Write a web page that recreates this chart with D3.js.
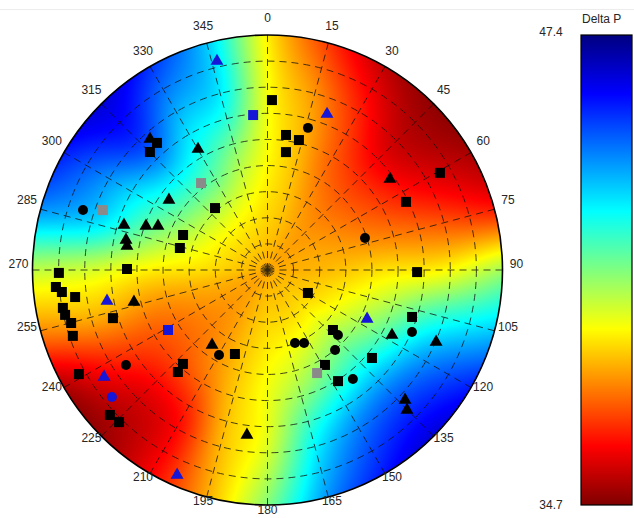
<!DOCTYPE html>
<html><head><meta charset="utf-8">
<script src="https://cdn.jsdelivr.net/npm/d3@7"></script>
<style>
body{margin:0;background:#fff;}
text{font-family:"Liberation Sans",Arial,Helvetica,sans-serif;}
</style>
</head><body>
<svg id="chart" width="634" height="518"></svg>
<script>
// ---------------- DATA ----------------
const colorMin = 34.7, colorMax = 47.4;
const colorTitle = "Delta P";
const angleTicks = [0,15,30,45,60,75,90,105,120,135,150,165,180,195,210,225,240,255,270,285,300,315,330,345];
const ringTicks = [10,20,30,40,50,60,70,80];
const radialMax = 90;

// Delta P field sampled on rings (radius, same units as points) x azimuths
const fieldAzimuths = [0,15,30,45,60,75,90,105,120,135,150,165,180,195,210,225,240,255,270,285,300,315,330,345];
const fieldRadii = [0, 22.5, 45, 67.5, 90];
const fieldCenter = 38.4;
const fieldRing1 = [39.0,38.7,38.3,38.1,38.2,38.4,38.6,38.9,39.1,39.3,39.2,39.1,39.0,38.7,38.3,38.1,38.2,38.5,39.0,39.3,39.5,39.6,39.5,39.3];
const fieldRing2 = [39.5,38.6,37.6,37.1,37.3,38.0,39.1,40.1,41.0,41.6,41.2,40.4,39.6,38.8,37.9,37.4,37.5,38.2,39.3,40.7,41.7,42.2,41.8,40.7];
const fieldRing3 = [39.6,38.2,36.8,35.7,36.1,37.4,39.4,42.0,43.8,44.5,44.0,42.5,39.9,38.6,36.4,35.9,36.8,38.5,40.0,42.9,43.8,45.0,43.5,42.7];
const fieldRing4 = [39.3,37.0,35.5,34.9,35.2,36.6,40.6,43.3,45.5,46.3,45.6,44.0,41.0,38.4,36.2,35.0,35.3,38.0,40.3,44.0,45.5,46.3,45.2,43.3];

// Observations: [azimuth (deg), radius]
const blackSquares = [[1.5,65.1],[7.8,52.2],[13.6,51.2],[8.9,45.7],[319.0,64.5],[315.1,63.8],[319.7,31.1],[292.5,35.0],[284.1,34.6],[60.6,75.8],[63.8,59.1],[269.2,79.9],[270.4,53.8],[265.4,81.3],[263.9,79.2],[262.0,74.4],[259.5,79.7],[257.5,79.4],[254.9,77.9],[251.3,78.7],[252.7,62.0],[201.2,34.5],[222.0,48.4],[221.3,52.0],[241.1,82.5],[227.4,82.0],[224.3,81.4],[119.6,17.8],[90.8,57.3],[108.0,58.2],[132.5,34.0],[130.1,52.3],[148.8,42.5],[147.6,50.4]];
const blackTriangles = [[318.1,67.4],[330.1,53.4],[305.4,46.3],[287.4,57.6],[289.9,49.5],[291.9,45.2],[282.0,55.4],[279.7,54.6],[53.4,58.4],[256.5,52.6],[216.5,35.7],[187.1,63.7],[117.6,53.8],[113.1,70.2],[133.4,72.5],[135.1,75.7]];
const blackCircles = [[15.9,56.6],[288.0,74.3],[71.8,39.3],[209.7,37.5],[236.1,65.3],[159.4,29.9],[153.4,31.3],[132.7,36.7],[139.8,40.1],[113.2,60.2],[141.9,53.0]];
const blueTriangles = [[346.4,82.3],[20.9,63.9],[259.1,62.6],[236.8,74.8],[203.8,85.8],[116.2,42.5]];
const blueSquares = [[354.7,59.6],[238.9,44.5]];
const blueCircles = [[230.8,76.9]];
const greySquares = [[322.6,41.9],[290.0,67.1],[154.3,43.8]];

// ---------------- CHART ----------------
const W = 634, H = 518;
const CX = 267.5, CY = 270, R = 235;
const svg = d3.select("#chart");

const rScale = d3.scaleLinear().domain([0, radialMax]).range([0, R]);
const rad = d => d * Math.PI / 180;
const px = (az, r) => CX + rScale(r) * Math.sin(rad(az));
const py = (az, r) => CY - rScale(r) * Math.cos(rad(az));

// reversed jet colormap
const jetStops = [0, 0.125, 0.375, 0.625, 0.875, 1];
const jetColors = ["#000080","#0000ff","#00ffff","#ffff00","#ff0000","#800000"];
const color = d3.scaleLinear()
  .domain(jetStops.map(p => colorMax - p * (colorMax - colorMin)))
  .range(jetColors)
  .interpolate(d3.interpolateRgb)
  .clamp(true);

// faint figure border line
svg.append("line").attr("x1",0).attr("x2",W).attr("y1",9.5).attr("y2",9.5)
  .attr("stroke","#ececec").attr("stroke-width",1);

const defs = svg.append("defs");
defs.append("clipPath").attr("id","clip").append("circle")
  .attr("cx",CX).attr("cy",CY).attr("r",R);
defs.append("filter").attr("id","soft").append("feGaussianBlur").attr("stdDeviation",0.6);

// ---- field raster (smooth Catmull-Rom shading between sampled values) ----
const rings = [fieldRing1, fieldRing2, fieldRing3, fieldRing4];
const nA = fieldAzimuths.length;
const aStep = 360 / nA;
function cr(p0, p1, p2, p3, t) {
  const t2 = t * t, t3 = t2 * t;
  return 0.5 * ((2 * p1) + (-p0 + p2) * t + (2 * p0 - 5 * p1 + 4 * p2 - p3) * t2 + (-p0 + 3 * p1 - 3 * p2 + p3) * t3);
}
function ringValue(k, az) {
  if (k <= 0) return fieldCenter;
  const row = rings[Math.min(k, rings.length) - 1];
  const f = az / aStep;
  const i1 = Math.floor(f) % nA, t = f - Math.floor(f);
  const i0 = (i1 - 1 + nA) % nA, i2 = (i1 + 1) % nA, i3 = (i1 + 2) % nA;
  return cr(row[i0], row[i1], row[i2], row[i3], t);
}
function fieldValue(r, az) {
  r = Math.min(r, radialMax);
  const last = fieldRadii.length - 1;
  let k = d3.bisectRight(fieldRadii, r) - 1;
  if (k >= last) k = last - 1;
  const t = (r - fieldRadii[k]) / (fieldRadii[k + 1] - fieldRadii[k]);
  const v1 = ringValue(k, az), v2 = ringValue(k + 1, az);
  const v0 = k > 0 ? ringValue(k - 1, az) : 2 * v1 - v2;
  const v3 = k + 2 <= last ? ringValue(k + 2, az) : 2 * v2 - v1;
  return cr(v0, v1, v2, v3, t);
}
const size = Math.ceil(2 * R + 4);
const x0 = Math.floor(CX - R - 2), y0 = Math.floor(CY - R - 2);
const canvas = document.createElement("canvas");
canvas.width = size; canvas.height = size;
const ctx = canvas.getContext("2d");
const img = ctx.createImageData(size, size);
for (let j = 0; j < size; j++) {
  for (let i = 0; i < size; i++) {
    const dx = x0 + i + 0.5 - CX, dy = y0 + j + 0.5 - CY;
    const r = rScale.invert(Math.sqrt(dx * dx + dy * dy));
    let az = Math.atan2(dx, -dy) * 180 / Math.PI;
    if (az < 0) az += 360;
    const c = d3.rgb(color(fieldValue(r, az)));
    const o = (j * size + i) * 4;
    img.data[o] = c.r; img.data[o+1] = c.g; img.data[o+2] = c.b; img.data[o+3] = 255;
  }
}
ctx.putImageData(img, 0, 0);
svg.append("image")
  .attr("x", x0).attr("y", y0).attr("width", size).attr("height", size)
  .attr("href", canvas.toDataURL())
  .attr("clip-path", "url(#clip)");

// ---- grid ----
const grid = svg.append("g").attr("fill","none").attr("stroke","#111")
  .attr("stroke-width",0.9).attr("stroke-dasharray","7,5").attr("opacity",0.85);
grid.selectAll("circle").data(ringTicks).join("circle")
  .attr("cx",CX).attr("cy",CY).attr("r",d => rScale(d));
grid.selectAll("line").data(angleTicks).join("line")
  .attr("x1",CX).attr("y1",CY)
  .attr("x2",d => px(d, radialMax)).attr("y2",d => py(d, radialMax));
svg.append("circle").attr("cx",CX).attr("cy",CY).attr("r",R)
  .attr("fill","none").attr("stroke","#000").attr("stroke-width",1.6);

// ---- angle labels ----
const LRX = 249, LRY = 246, LCY = 263.5;
svg.append("g").selectAll("text").data(angleTicks).join("text")
  .attr("x", d => CX + LRX * Math.sin(rad(d)))
  .attr("y", d => LCY - LRY * Math.cos(rad(d)))
  .attr("dy","0.35em").attr("text-anchor","middle")
  .attr("font-size",12).attr("fill","#262626")
  .text(d => d);

// ---- markers ----
const markers = svg.append("g").attr("filter","url(#soft)");
function drawSet(data, type, sz, fill) {
  markers.append("g").selectAll("path").data(data).join("path")
    .attr("transform", d => `translate(${px(d[0], d[1])},${py(d[0], d[1])})`)
    .attr("d", d3.symbol().type(type).size(sz)())
    .attr("fill", fill);
}
drawSet(blackSquares, d3.symbolSquare, 100, "#000");
drawSet(greySquares, d3.symbolSquare, 100, "#8a8a8a");
drawSet(blueSquares, d3.symbolSquare, 100, "#1515d8");
drawSet(blackCircles, d3.symbolCircle, 78, "#000");
drawSet(blueCircles, d3.symbolCircle, 78, "#1515d8");
drawSet(blackTriangles, d3.symbolTriangle, 72, "#000");
drawSet(blueTriangles, d3.symbolTriangle, 72, "#1515d8");

// ---- colorbar ----
const cbX = 581, cbY = 35, cbW = 51, cbH = 470;
const grad = defs.append("linearGradient").attr("id","cbgrad")
  .attr("x1",0).attr("y1",1).attr("x2",0).attr("y2",0);
const cbScale = d3.scaleLinear().domain([colorMin, colorMax]).range([cbY + cbH, cbY]);
grad.selectAll("stop").data(color.domain().slice().sort((a,b)=>a-b)).join("stop")
  .attr("offset", d => (d - colorMin) / (colorMax - colorMin))
  .attr("stop-color", d => color(d));
svg.append("rect").attr("x",cbX).attr("y",cbY).attr("width",cbW).attr("height",cbH)
  .attr("fill","url(#cbgrad)").attr("stroke","#000").attr("stroke-width",1.2);
svg.append("text").attr("x",582).attr("y",23).attr("font-size",12).attr("fill","#262626").text(colorTitle);
svg.append("text").attr("x",551).attr("y",cbScale(colorMax)).attr("dy","0.05em")
  .attr("text-anchor","middle").attr("font-size",12).attr("fill","#262626").text(colorMax.toFixed(1));
svg.append("text").attr("x",551).attr("y",cbScale(colorMin)).attr("dy","0.35em")
  .attr("text-anchor","middle").attr("font-size",12).attr("fill","#262626").text(colorMin.toFixed(1));
</script>
</body></html>
